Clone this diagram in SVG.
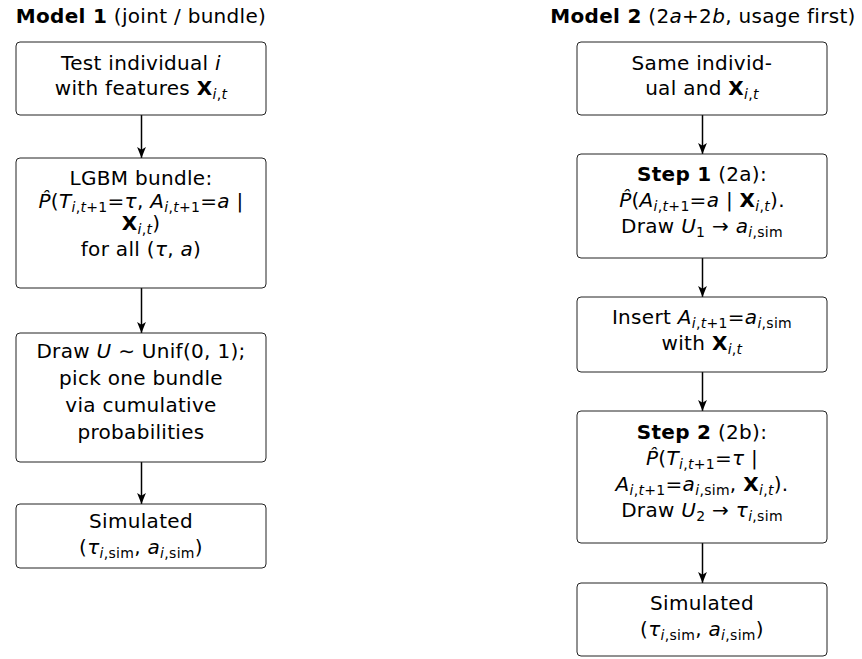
<svg xmlns="http://www.w3.org/2000/svg" width="862" height="659" viewBox="0 0 862 659">
<style>
text { font-family: "DejaVu Sans", "Liberation Sans", sans-serif; font-size: 20px; fill: #000; text-anchor: middle; letter-spacing: 0.3px; }
.b { font-weight: bold; font-style: normal; }
.i { font-style: italic; }
.s { font-size: 14px; font-style: italic; }
.n { font-style: normal; }
.box { fill: #fff; stroke: #222; stroke-width: 1; }
.arrow { stroke: #000; stroke-width: 1.5; fill: none; marker-end: url(#ah); }
</style>
<defs>
<marker id="ah" viewBox="0 0 10 8" refX="10" refY="4" markerWidth="11" markerHeight="9" markerUnits="userSpaceOnUse" orient="auto">
<path d="M0,0 L10,4 L0,8 L2.5,4 Z" fill="#000"/>
</marker>
</defs>

<text x="141" y="23"><tspan class="b">Model 1</tspan> (joint / bundle)</text>
<text x="703" y="23"><tspan class="b">Model 2</tspan> (2<tspan class="i">a</tspan>+2<tspan class="i">b</tspan>, usage first)</text>

<g id="connectors">
<line class="arrow" x1="141.5" y1="115" x2="141.5" y2="158"/>
<line class="arrow" x1="141.5" y1="288" x2="141.5" y2="333"/>
<line class="arrow" x1="141.5" y1="462" x2="141.5" y2="504"/>
<line class="arrow" x1="702.5" y1="115" x2="702.5" y2="154"/>
<line class="arrow" x1="702.5" y1="258" x2="702.5" y2="297"/>
<line class="arrow" x1="702.5" y1="372" x2="702.5" y2="411"/>
<line class="arrow" x1="702.5" y1="543" x2="702.5" y2="583"/>
</g>

<g id="L1">
<rect class="box" x="16" y="42" width="250" height="73" rx="4"/>
<text x="141" y="70">Test individual <tspan class="i">i</tspan></text>
<text x="141" y="95">with features <tspan class="b">X</tspan><tspan class="s" dy="4">i<tspan class="n">,</tspan>t</tspan></text>
</g>

<g id="L2">
<rect class="box" x="16" y="158" width="250" height="130" rx="4"/>
<text x="141" y="185">LGBM bundle:</text>
<text x="141" y="208"><tspan class="i">P̂</tspan>(<tspan class="i">T</tspan><tspan class="s" dy="4">i<tspan class="n">,</tspan>t<tspan class="n">+1</tspan></tspan><tspan dy="-4">=</tspan><tspan class="i">τ</tspan>, <tspan class="i">A</tspan><tspan class="s" dy="4">i<tspan class="n">,</tspan>t<tspan class="n">+1</tspan></tspan><tspan dy="-4">=</tspan><tspan class="i">a</tspan> |</text>
<text x="141" y="230"><tspan class="b">X</tspan><tspan class="s" dy="4">i<tspan class="n">,</tspan>t</tspan><tspan dy="-4">)</tspan></text>
<text x="141" y="256">for all (<tspan class="i">τ</tspan>, <tspan class="i">a</tspan>)</text>
</g>

<g id="L3">
<rect class="box" x="16" y="333" width="250" height="129" rx="4"/>
<text x="141" y="358">Draw <tspan class="i">U</tspan> ∼ Unif(0, 1);</text>
<text x="141" y="385">pick one bundle</text>
<text x="141" y="412">via cumulative</text>
<text x="141" y="439">probabilities</text>
</g>

<g id="L4">
<rect class="box" x="16" y="504" width="250" height="64" rx="4"/>
<text x="141" y="528">Simulated</text>
<text x="141" y="554">(<tspan class="i">τ</tspan><tspan class="s" dy="4">i<tspan class="n">,sim</tspan></tspan><tspan dy="-4">, </tspan><tspan class="i">a</tspan><tspan class="s" dy="4">i<tspan class="n">,sim</tspan></tspan><tspan dy="-4">)</tspan></text>
</g>

<g id="R1">
<rect class="box" x="577" y="42" width="250" height="73" rx="4"/>
<text x="702" y="70">Same individ-</text>
<text x="702" y="95">ual and <tspan class="b">X</tspan><tspan class="s" dy="4">i<tspan class="n">,</tspan>t</tspan></text>
</g>

<g id="R2">
<rect class="box" x="577" y="154" width="250" height="104" rx="4"/>
<text x="702" y="181"><tspan class="b">Step 1</tspan> (2a):</text>
<text x="702" y="207"><tspan class="i">P̂</tspan>(<tspan class="i">A</tspan><tspan class="s" dy="4">i<tspan class="n">,</tspan>t<tspan class="n">+1</tspan></tspan><tspan dy="-4">=</tspan><tspan class="i">a</tspan> | <tspan class="b">X</tspan><tspan class="s" dy="4">i<tspan class="n">,</tspan>t</tspan><tspan dy="-4">).</tspan></text>
<text x="702" y="233">Draw <tspan class="i">U</tspan><tspan class="s n" dy="4">1</tspan><tspan dy="-4"> → </tspan><tspan class="i">a</tspan><tspan class="s" dy="4">i<tspan class="n">,sim</tspan></tspan></text>
</g>

<g id="R3">
<rect class="box" x="577" y="297" width="250" height="75" rx="4"/>
<text x="702" y="324">Insert <tspan class="i">A</tspan><tspan class="s" dy="4">i<tspan class="n">,</tspan>t<tspan class="n">+1</tspan></tspan><tspan dy="-4">=</tspan><tspan class="i">a</tspan><tspan class="s" dy="4">i<tspan class="n">,sim</tspan></tspan></text>
<text x="702" y="350">with <tspan class="b">X</tspan><tspan class="s" dy="4">i<tspan class="n">,</tspan>t</tspan></text>
</g>

<g id="R4">
<rect class="box" x="577" y="411" width="250" height="132" rx="4"/>
<text x="702" y="439"><tspan class="b">Step 2</tspan> (2b):</text>
<text x="702" y="465"><tspan class="i">P̂</tspan>(<tspan class="i">T</tspan><tspan class="s" dy="4">i<tspan class="n">,</tspan>t<tspan class="n">+1</tspan></tspan><tspan dy="-4">=</tspan><tspan class="i">τ</tspan>  |</text>
<text x="702" y="491"><tspan class="i">A</tspan><tspan class="s" dy="4">i<tspan class="n">,</tspan>t<tspan class="n">+1</tspan></tspan><tspan dy="-4">=</tspan><tspan class="i">a</tspan><tspan class="s" dy="4">i<tspan class="n">,sim</tspan></tspan><tspan dy="-4">, </tspan><tspan class="b">X</tspan><tspan class="s" dy="4">i<tspan class="n">,</tspan>t</tspan><tspan dy="-4">).</tspan></text>
<text x="702" y="517">Draw <tspan class="i">U</tspan><tspan class="s n" dy="4">2</tspan><tspan dy="-4"> → </tspan><tspan class="i">τ</tspan><tspan class="s" dy="4">i<tspan class="n">,sim</tspan></tspan></text>
</g>

<g id="R5">
<rect class="box" x="577" y="583" width="250" height="73" rx="4"/>
<text x="702" y="610">Simulated</text>
<text x="702" y="636">(<tspan class="i">τ</tspan><tspan class="s" dy="4">i<tspan class="n">,sim</tspan></tspan><tspan dy="-4">, </tspan><tspan class="i">a</tspan><tspan class="s" dy="4">i<tspan class="n">,sim</tspan></tspan><tspan dy="-4">)</tspan></text>
</g>
</svg>
